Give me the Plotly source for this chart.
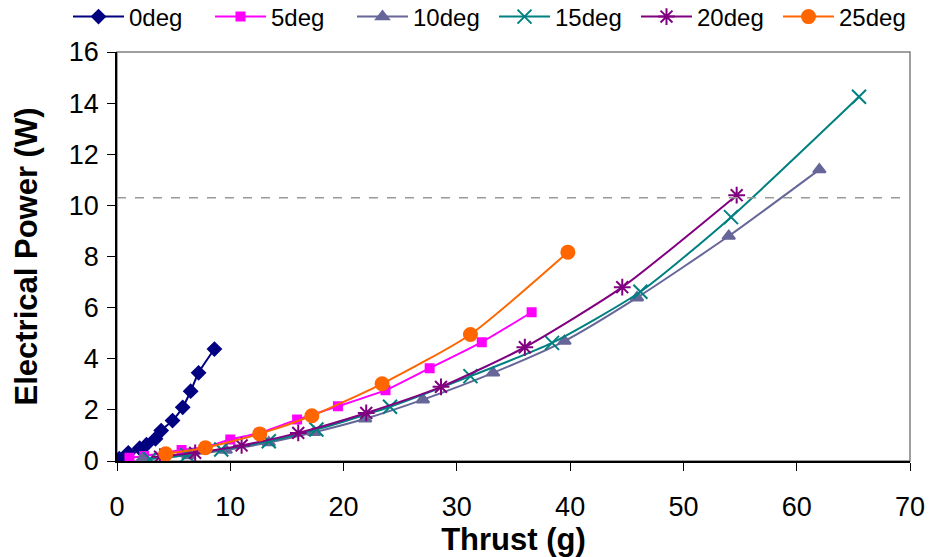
import plotly.graph_objects as go

series_names = ["0deg", "5deg", "10deg", "15deg", "20deg", "25deg"]

thrust_0 = [0.2, 1.0, 2.0, 2.6, 3.4, 3.9, 4.9, 5.8, 6.5, 7.2, 8.6]
power_0 = [0.09, 0.32, 0.50, 0.64, 0.87, 1.19, 1.58, 2.10, 2.73, 3.45, 4.38]

thrust_5 = [1.1, 2.4, 5.7, 7.8, 10.0, 12.6, 15.9, 19.5, 23.7, 27.6, 32.2, 36.6]
power_5 = [0.13, 0.20, 0.43, 0.55, 0.84, 1.10, 1.62, 2.14, 2.77, 3.63, 4.65, 5.82]

thrust_10 = [2.2, 6.3, 9.6, 13.4, 17.4, 21.9, 27.0, 33.2, 39.5, 45.9, 54.0, 62.0]
power_10 = [0.07, 0.22, 0.43, 0.72, 1.12, 1.65, 2.40, 3.45, 4.69, 6.39, 8.80, 11.40]

thrust_15 = [2.9, 6.2, 9.2, 13.4, 17.6, 24.1, 31.2, 38.4, 46.2, 54.2, 65.5]
power_15 = [0.08, 0.23, 0.45, 0.77, 1.23, 2.12, 3.32, 4.62, 6.62, 9.54, 14.25]

thrust_20 = [3.8, 6.9, 11.0, 16.0, 22.0, 28.6, 36.0, 44.6, 54.7]
power_20 = [0.17, 0.32, 0.61, 1.10, 1.88, 2.90, 4.45, 6.80, 10.40]

thrust_25 = [4.3, 7.8, 12.6, 17.2, 23.4, 31.2, 39.8]
power_25 = [0.28, 0.52, 1.06, 1.77, 3.02, 4.95, 8.17]

limit_power = 10.3
x_ticks = [0, 10, 20, 30, 40, 50, 60, 70]
y_ticks = [0, 2, 4, 6, 8, 10, 12, 14, 16]

xs = [thrust_0, thrust_5, thrust_10, thrust_15, thrust_20, thrust_25]
ys = [power_0, power_5, power_10, power_15, power_20, power_25]
colors = ["#000080", "#FF00FF", "#666699", "#008080", "#800080", "#FF6600"]
symbols = ["diamond", "square", "triangle-up", "x-thin-open", "asterisk-open", "circle"]
sizes = [10, 8, 11, 14, 14, 13]

FONT = "Liberation Sans, Arial, sans-serif"

fig = go.Figure()
for name, x, y, c, s, sz in zip(series_names, xs, ys, colors, symbols, sizes):
    fig.add_trace(go.Scatter(
        x=x, y=y, name=name, mode="lines+markers",
        line=dict(color=c, width=2, shape="spline", smoothing=0.6),
        marker=dict(symbol=s, size=sz, color=c, line=dict(color=c, width=2)),
    ))

fig.add_shape(type="line", xref="paper", yref="y", x0=0, x1=1,
              y0=limit_power, y1=limit_power,
              line=dict(color="#999999", width=1.5, dash="dash"))
fig.add_shape(type="rect", xref="paper", yref="paper", x0=0, x1=1, y0=0, y1=1,
              line=dict(color="#808080", width=1.5), layer="below")

fig.update_layout(
    width=930, height=557,
    margin=dict(l=117, r=20, t=52, b=96, autoexpand=False),
    paper_bgcolor="white", plot_bgcolor="white",
    font=dict(family=FONT, size=24, color="black"),
    showlegend=True,
    legend=dict(orientation="h", xref="paper", yref="paper",
                x=(68 - 117) / 793, xanchor="left", y=(461 - 17) / 409, yanchor="middle",
                font=dict(size=24, family=FONT), entrywidth=76, entrywidthmode="pixels",
                itemwidth=51, bgcolor="rgba(0,0,0,0)"),
)
fig.update_xaxes(range=[0, 70], tickvals=x_ticks, showgrid=False, zeroline=False,
                 showline=True, linecolor="black", linewidth=1.5,
                 ticks="outside", ticklen=8, tickcolor="black",
                 ticklabelstandoff=13,
                 tickfont=dict(size=27, family=FONT),
                 title=dict(text="<b>Thrust (g)</b>", font=dict(size=31, family=FONT), standoff=5))
fig.update_yaxes(range=[0, 16], tickvals=y_ticks, showgrid=False, zeroline=False,
                 showline=True, linecolor="black", linewidth=1.5,
                 ticks="outside", ticklen=8, tickcolor="black",
                 ticklabelstandoff=3,
                 tickfont=dict(size=27, family=FONT),
                 title=dict(text="<b>Electrical Power (W)</b>", font=dict(size=31, family=FONT), standoff=22))

fig.write_html("out.html", config={"displayModeBar": False},
               post_script="document.body.style.margin='0';")
